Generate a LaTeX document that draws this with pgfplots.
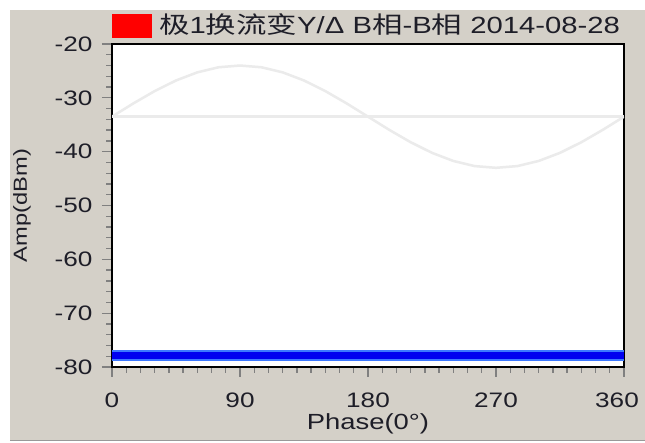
\documentclass[border=0pt]{standalone}
\usepackage{pgfplots}
\pgfplotsset{compat=1.18}
\usepackage{fontspec}
\setmainfont{Liberation Sans}[FakeStretch=1.25]
\newfontfamily\cjk{Noto Sans CJK SC}[FakeStretch=1.3]
\definecolor{bggray}{HTML}{D4D0C8}
\definecolor{textc}{HTML}{1E1E28}
\definecolor{sinec}{HTML}{EBEBEB}
\definecolor{bandlight}{HTML}{3C78FF}
\definecolor{bandcore}{HTML}{0000F0}
\pgfplotstableread{
x y
0 -33.5
15 -31.04
30 -28.75
45 -26.78
60 -25.27
75 -24.32
90 -24.0
105 -24.32
120 -25.27
135 -26.78
150 -28.75
165 -31.04
180 -33.5
195 -35.96
210 -38.25
225 -40.22
240 -41.73
255 -42.68
270 -43.0
285 -42.68
300 -41.73
315 -40.22
330 -38.25
345 -35.96
360 -33.5
}\sinedata
\begin{document}
\begin{tikzpicture}[x=1bp,y=1bp]
\fill[white] (0,0) rectangle (645,443);
\fill[bggray] (10,2) rectangle (645,433);
\draw[gray!80, line width=1bp] (10,2.5) -- (645,2.5);
\fill[red] (112,405) rectangle (152,429);
\node[anchor=west, text=textc, font=\fontsize{23.5}{24}\selectfont, inner sep=0pt] at (159,418)
  {{\cjk 极}1{\cjk 换流变}Y/Δ B{\cjk 相}-B{\cjk 相} 2014-08-28};
\begin{axis}[
  at={(112bp,76bp)}, anchor=south west,
  scale only axis, width=512bp, height=323bp,
  xmin=0, xmax=360, ymin=-80, ymax=-20,
  axis background/.style={fill=white},
  axis line style={black, line width=1.6bp},
  xtick={0,90,180,270,360},
  xticklabels={0,90,180,270,\hspace*{-14bp}360},
  minor x tick num=8,
  ytick={-80,-70,-60,-50,-40,-30,-20},
  yticklabels={-80,-70,-60,-50,-40,-30,-20},
  minor y tick num=4,
  xtick pos=left, ytick pos=left,
  tick align=outside,
  major tick length=10bp, minor tick length=6bp,
  every tick/.style={gray, line width=1.3bp},
  ticklabel style={font=\fontsize{21}{22}\selectfont, text=textc},
  xticklabel style={anchor=north, yshift=-12bp},
  yticklabel style={anchor=east, xshift=-6bp},
  xlabel={Phase(0°)}, ylabel={Amp(dBm)},
  xlabel style={font=\fontsize{22}{23}\selectfont, text=textc, at={(axis description cs:0.5,-0.176)}, anchor=center},
  ylabel style={font=\fontsize{19}{20}\selectfont, text=textc, at={(axis description cs:-0.176,0.5)}, anchor=center},
  clip=true,
]
\addplot[draw=none, fill=bandlight] coordinates {(0,-76.85) (360,-76.85) (360,-78.95) (0,-78.95)} -- cycle;
\addplot[draw=none, fill=bandcore] coordinates {(0,-77.25) (360,-77.25) (360,-78.6) (0,-78.6)} -- cycle;
\addplot[sinec, line width=2.5bp] table[x=x,y=y] {\sinedata};
\addplot[sinec, line width=2.5bp] coordinates {(0,-33.5) (360,-33.5)};
\end{axis}
\pgfresetboundingbox
\useasboundingbox (0,0) rectangle (645,443);
\end{tikzpicture}
\end{document}
